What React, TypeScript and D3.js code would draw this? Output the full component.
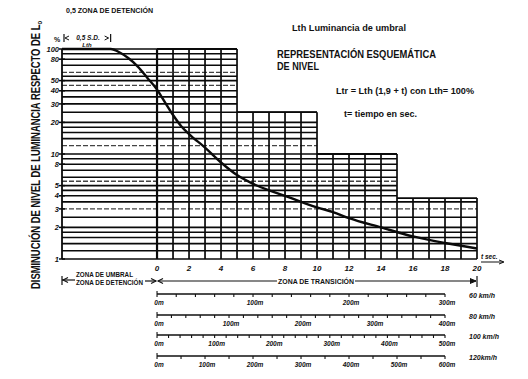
import React, { useLayoutEffect, useRef, useState } from "react";
import * as d3 from "d3";

// ---------- data ----------
const timeTicks = [0, 2, 4, 6, 8, 10, 12, 14, 16, 18, 20];
const gridSeconds = [0, 1, 2, 3, 4, 5, 6, 7, 8, 9, 10, 11, 12, 13, 14, 15, 16, 17, 18, 19, 20];
const gridValues = [1, 1.2, 1.4, 1.6, 1.8, 2, 2.5, 3, 3.5, 4, 4.5, 5, 5.5, 6, 7, 8, 9, 10, 12, 14, 16, 18, 20, 25, 30, 35, 40, 45, 50, 55, 60, 70, 80, 90, 100];
const dashedValues = [3, 5.5, 12, 45, 60];
const yTickLabels = [1, 2, 3, 4, 5, 8, 10, 20, 30, 40, 50, 80, 100];
const stepStart = [0, 5, 10, 15];
const stepEnd = [5, 10, 15, 20];
const stepTop = [100, 25, 10, 3.8];
const umbralStart = -5.94; // start of threshold zone (seconds)

const curveT = [-5.94, -2.9, -2.3, -1.8, -1.2, -0.6, 0, 0.5, 1, 1.5, 2, 3, 4, 5, 6, 7, 8, 9, 10, 11, 12, 14, 16, 18, 20];
const curveV = [100, 100, 92, 82, 68, 53, 41, 31, 23.5, 18.5, 15.5, 11.5, 8.3, 6.3, 5.2, 4.5, 4.0, 3.5, 3.1, 2.8, 2.45, 2.0, 1.64, 1.42, 1.26];

const speeds = [60, 80, 100, 120];
const speedLabels = ["60 km/h", "80 km/h", "100 km/h", "120km/h"];
const distMax = [300, 400, 500, 600];
const distTickStep = [20, 20, 20, 50];
const distLabelStep = [100, 100, 100, 100];

// ---------- layout ----------
const W = 528;
const H = 379;
const scaleRowY = [294, 315, 335, 356];
const FONT = "'Liberation Sans', Arial, Helvetica, sans-serif";
const TITLE_LEN = 268;

export default function App() {
  const x = d3.scaleLinear().domain([umbralStart, 20]).range([62, 477]);
  const y = d3.scaleLog().domain([1, 100]).range([259, 49]);

  const titleRef = useRef<SVGTextElement>(null);
  const [titleScale, setTitleScale] = useState(0.72);
  useLayoutEffect(() => {
    const el = titleRef.current;
    if (el) {
      const len = el.getComputedTextLength();
      if (len > 0) setTitleScale(TITLE_LEN / len);
    }
  }, []);

  const hEnd = (v: number) => {
    let end = stepEnd[0];
    stepTop.forEach((top, i) => {
      if (top >= v - 1e-9) end = Math.max(end, stepEnd[i]);
    });
    return end;
  };
  const vTop = (s: number) => {
    let top = 1;
    stepTop.forEach((t, i) => {
      if (s >= stepStart[i] && s <= stepEnd[i]) top = Math.max(top, t);
    });
    return top;
  };

  const pts = curveT.map((t, i) => [x(t), y(curveV[i])] as [number, number]);
  const line = d3.line().curve(d3.curveMonotoneX)(pts) || "";

  const t0 = x(0);
  const tEnd = x(20);

  return (
    <svg
      width={W}
      height={H}
      style={{ position: "absolute", left: 0, top: 0, background: "#fff" }}
      fontFamily={FONT}
    >
      <rect x={0} y={0} width={W} height={H} fill="#fff" />

      {/* horizontal grid lines */}
      {gridValues.map((v) => {
        const dashed = dashedValues.includes(v);
        return (
          <line
            key={"h" + v}
            x1={x(umbralStart)}
            x2={x(hEnd(v))}
            y1={y(v)}
            y2={y(v)}
            stroke={dashed ? "#444" : "#0a0a0a"}
            strokeWidth={dashed ? 1.3 : 1.6}
            strokeDasharray={dashed ? "5 2" : undefined}
          />
        );
      })}
      {/* step top borders */}
      {stepTop.map((top, i) => (
        <line key={"st" + i} x1={x(stepStart[i])} x2={x(stepEnd[i])} y1={y(top)} y2={y(top)} stroke="#0a0a0a" strokeWidth={1.8} />
      ))}
      {/* vertical grid lines */}
      {gridSeconds.map((s) => (
        <line
          key={"v" + s}
          x1={x(s)}
          x2={x(s)}
          y1={y(1)}
          y2={y(vTop(s))}
          stroke="#0a0a0a"
          strokeWidth={s === 0 ? 2.2 : 1.7}
        />
      ))}
      {/* left border */}
      <line x1={x(umbralStart)} x2={x(umbralStart)} y1={y(1)} y2={y(100)} stroke="#0a0a0a" strokeWidth={1.8} />
      {/* y ticks & labels */}
      {yTickLabels.map((v) => (
        <g key={"yt" + v}>
          <line x1={x(umbralStart) - 3} x2={x(umbralStart) + 3} y1={y(v)} y2={y(v)} stroke="#0a0a0a" strokeWidth={1.5} />
          <text
            x={x(umbralStart) - 3}
            y={y(v)}
            dy="0.35em"
            textAnchor="end"
            fontSize={7.5}
            fontWeight="bold"
            fontStyle="italic"
            fill="#111"
          >
            {v}
          </text>
        </g>
      ))}
      <text x={57} y={42} fontSize={7} fontWeight="bold" textAnchor="middle" fill="#111">%</text>

      {/* curve */}
      <path d={line} fill="none" stroke="#0a0a0a" strokeWidth={2.4} />

      {/* x tick labels */}
      {timeTicks.map((t) => (
        <text key={"xt" + t} x={x(t)} y={268} dy="0.35em" textAnchor="middle" fontSize={8} fontWeight="bold" fontStyle="italic" fill="#111">
          {t}
        </text>
      ))}
      <text x={481} y={259} fontSize={6.5} fontWeight="bold" fontStyle="italic" fill="#111">t sec.</text>
      <line x1={481} x2={503} y1={262} y2={262} stroke="#111" strokeWidth={1} />
      <path d="M499,260 L504,262 L499,264" fill="none" stroke="#111" strokeWidth={1} />

      {/* top-left bracket */}
      <line x1={x(umbralStart) + 2} x2={x(umbralStart) + 2} y1={34} y2={42} stroke="#111" strokeWidth={1.2} />
      <line x1={x(-2.9)} x2={x(-2.9)} y1={34} y2={42} stroke="#111" strokeWidth={1.2} />
      <path d={`M${x(umbralStart) + 7},36 L${x(umbralStart) + 3},38 L${x(umbralStart) + 7},40`} fill="none" stroke="#111" strokeWidth={1} />
      <path d={`M${x(-2.9) - 6},36 L${x(-2.9) - 2},38 L${x(-2.9) - 6},40`} fill="none" stroke="#111" strokeWidth={1} />
      <text x={88} y={40} textAnchor="middle" fontSize={6.5} fontWeight="bold" fontStyle="italic" fill="#111">0,5  S.D.</text>
      <text x={87} y={47} textAnchor="middle" fontSize={6} fontWeight="bold" fontStyle="italic" fill="#111">Lth</text>

      {/* header texts */}
      <text x={66} y={13} fontSize={7} fontWeight="bold" textLength={87} lengthAdjust="spacingAndGlyphs" fill="#111">0,5 ZONA DE DETENCIÓN</text>
      <text x={292} y={31} fontSize={9.5} fontWeight="bold" textLength={114} lengthAdjust="spacingAndGlyphs" fill="#111">Lth  Luminancia de umbral</text>
      <text x={277} y={58} fontSize={11} fontWeight="bold" textLength={159} lengthAdjust="spacingAndGlyphs" fill="#111">REPRESENTACIÓN ESQUEMÁTICA</text>
      <text x={277} y={70} fontSize={11} fontWeight="bold" textLength={42} lengthAdjust="spacingAndGlyphs" fill="#111">DE NIVEL</text>
      <text x={336} y={93.5} fontSize={9.5} fontWeight="bold" textLength={138} lengthAdjust="spacingAndGlyphs" fill="#111">Ltr = Lth (1,9 + t) con Lth= 100%</text>
      <text x={344} y={116.5} fontSize={9.5} fontWeight="bold" textLength={73} lengthAdjust="spacingAndGlyphs" fill="#111">t= tiempo en sec.</text>

      {/* y axis title */}
      <g transform={`translate(40,289) rotate(-90) scale(${titleScale},1)`}>
        <text ref={titleRef} x={0} y={0} fontSize={12.5} fontWeight="bold" fill="#111">
          DISMINUCIÓN DE NIVEL DE LUMINANCIA RESPECTO DE L<tspan fontSize={8} dy={2}>o</tspan>
        </text>
      </g>

      {/* zone arrows */}
      <line x1={x(umbralStart)} x2={x(umbralStart)} y1={276} y2={285} stroke="#111" strokeWidth={1.2} />
      <line x1={x(umbralStart)} x2={75} y1={280} y2={280} stroke="#111" strokeWidth={1.2} />
      <path d={`M${x(umbralStart) + 6},277.5 L${x(umbralStart) + 1},280 L${x(umbralStart) + 6},282.5`} fill="none" stroke="#111" strokeWidth={1.1} />
      <text x={76} y={276.5} fontSize={6.5} fontWeight="bold" textLength={57} lengthAdjust="spacingAndGlyphs" fill="#111">ZONA DE UMBRAL</text>
      <text x={76} y={285} fontSize={6.5} fontWeight="bold" textLength={67} lengthAdjust="spacingAndGlyphs" fill="#111">ZONA DE DETENCIÓN</text>
      <line x1={145} x2={t0 - 1} y1={281} y2={281} stroke="#111" strokeWidth={1.2} />
      <path d={`M${t0 - 6},278.5 L${t0 - 1},281 L${t0 - 6},283.5`} fill="none" stroke="#111" strokeWidth={1.1} />
      <path d={`M${t0 + 6},278.5 L${t0 + 1},281 L${t0 + 6},283.5`} fill="none" stroke="#111" strokeWidth={1.1} />
      <line x1={t0 + 1} x2={277} y1={281} y2={281} stroke="#111" strokeWidth={1.2} />
      <text x={278} y={284} fontSize={6.5} fontWeight="bold" textLength={76} lengthAdjust="spacingAndGlyphs" fill="#111">ZONA DE TRANSICIÓN</text>
      <line x1={355} x2={tEnd - 1} y1={281} y2={281} stroke="#111" strokeWidth={1.2} />
      <path d={`M${tEnd - 7},278.5 L${tEnd - 1},281 L${tEnd - 7},283.5`} fill="#111" stroke="#111" strokeWidth={1} />
      <line x1={tEnd} x2={tEnd} y1={276} y2={287} stroke="#111" strokeWidth={1.2} />

      {/* distance scales */}
      {speeds.map((sp, i) => {
        const ms = sp / 3.6;
        const xd = (d: number) => x(d / ms);
        const ticks = d3.range(0, distMax[i] + 0.1, distTickStep[i]);
        const labels = d3.range(0, distMax[i] + 0.1, distLabelStep[i]);
        const ly = scaleRowY[i];
        return (
          <g key={"sc" + sp}>
            <line x1={xd(0)} x2={xd(distMax[i])} y1={ly} y2={ly} stroke="#111" strokeWidth={1.5} />
            {ticks.map((d) => (
              <line key={"tk" + d} x1={xd(d)} x2={xd(d)} y1={d === 0 ? ly - 3 : ly} y2={ly + 3} stroke="#111" strokeWidth={1.1} />
            ))}
            {labels.map((d) => (
              <text key={"lb" + d} x={xd(d) + 2} y={ly + 11} textAnchor="middle" fontSize={6.5} fontWeight="bold" fontStyle="italic" fill="#111">
                {d}m
              </text>
            ))}
            <text x={469} y={ly + 4} fontSize={7} fontWeight="bold" fontStyle="italic" fill="#111">
              {speedLabels[i]}
            </text>
          </g>
        );
      })}
    </svg>
  );
}
